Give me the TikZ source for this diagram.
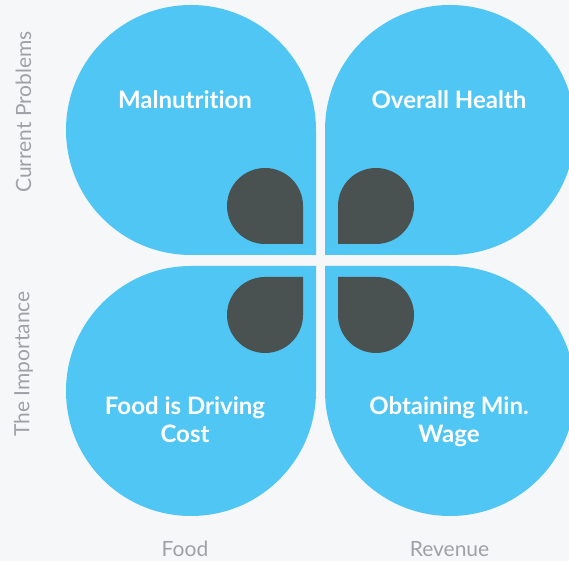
\documentclass[tikz,border=0pt]{standalone}
\usepackage{fontspec}
\setmainfont{Lato}[Ligatures={NoCommon}]
\definecolor{bgc}{HTML}{F6F7F9}
\definecolor{petal}{HTML}{4FC6F3}
\definecolor{darkpetal}{HTML}{4A5151}
\definecolor{axisgray}{HTML}{9EA2A6}
\newcommand{\petalshape}[4]{% center, radius, start angle of sharp quadrant, style
  \fill[#4] ([shift={(#3:#2)}]#1) -- ++(#3+90:#2) -- ([shift={(#3+90:#2)}]#1)
    arc[start angle=#3+90, end angle=#3+360, radius=#2] -- cycle;}
\begin{document}
\begin{tikzpicture}[x=1pt,y=1pt,
  bigpetal/.style={fill=petal},
  smallpetal/.style={fill=darkpetal},
  petallabel/.style={text=white, font=\bfseries\fontsize{24}{28}\selectfont, align=center, inner sep=0pt},
  axislabel/.style={text=axisgray, font=\fontsize{21}{24}\selectfont, inner sep=0pt}]
\fill[bgc] (0,0) rectangle (569,561);
\useasboundingbox (0,0) rectangle (569,561);
\begin{scope}
\clip (0,0) rectangle (569,561);
\coordinate (ctl) at (191,431);
\coordinate (ctr) at (450,431);
\coordinate (cbl) at (191,170);
\coordinate (cbr) at (450,170);
\coordinate (dtl) at (265,355);
\coordinate (dtr) at (376,355);
\coordinate (dbl) at (265,246);
\coordinate (dbr) at (376,246);
\petalshape{ctl}{125}{270}{bigpetal}
\petalshape{ctr}{125}{180}{bigpetal}
\petalshape{cbl}{125}{0}{bigpetal}
\petalshape{cbr}{125}{90}{bigpetal}
\petalshape{dtl}{38}{270}{smallpetal}
\petalshape{dtr}{38}{180}{smallpetal}
\petalshape{dbl}{38}{0}{smallpetal}
\petalshape{dbr}{38}{90}{smallpetal}
\end{scope}
\node[petallabel, anchor=base] (mal) at (185,452) {Malnutrition};
\node[petallabel, anchor=base] (ovh) at (449,452) {Overall Health};
\node[petallabel, anchor=north] (food) at (185,165) {Food is Driving\\Cost};
\node[petallabel, anchor=north] (wage) at (449,165) {Obtaining Min.\\Wage};
\node[axislabel, rotate=90] (cp) at (23.5,449) {Current Problems};
\node[axislabel, rotate=90] (ti) at (23.5,197) {The Importance};
\node[axislabel, anchor=base] (xf) at (185,5) {Food};
\node[axislabel, anchor=base] (xr) at (449.5,5) {Revenue};
\end{tikzpicture}
\end{document}
